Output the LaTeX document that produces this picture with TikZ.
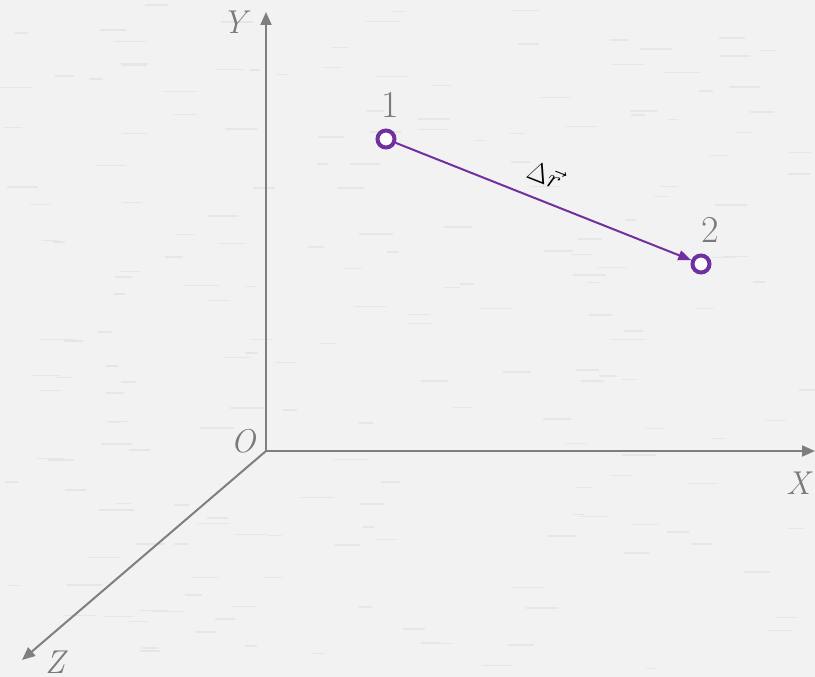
\documentclass[tikz,border=0pt]{standalone}
\usetikzlibrary{arrows.meta}
\usepackage{graphicx}
\definecolor{bgc}{HTML}{F2F2F2}
\definecolor{texc}{HTML}{E6E6E6}
\definecolor{axisc}{HTML}{7F7F7F}
\definecolor{labc}{HTML}{7A7A7A}
\definecolor{purp}{HTML}{7030A0}
\tikzset{
  axis/.style={draw=axisc, line width=2pt, -{Triangle[length=13pt,width=11pt]}},
  axlab/.style={text=labc, font=\fontsize{33}{35}\selectfont\itshape, inner sep=0pt},
  ptlab/.style={text=labc, font=\fontsize{38}{40}\selectfont, inner sep=0pt},
  pt/.style={circle, draw=purp, line width=4pt, fill=white, minimum size=17pt, inner sep=0pt},
  vec/.style={draw=purp, line width=2pt, -{Triangle[length=13pt,width=10pt]}},
}
\begin{document}
\begin{tikzpicture}[x=1pt,y=-1pt]
\fill[bgc] (0,0) rectangle (815,677);
\useasboundingbox (0,0) rectangle (815,677);
\pgfmathsetseed{7}
\foreach \i in {1,...,200}{
  \pgfmathsetmacro{\px}{rnd*800}
  \pgfmathsetmacro{\py}{rnd*670}
  \pgfmathsetmacro{\pl}{10+rnd*25}
  \draw[texc, line width=1.5pt] (\px,\py) -- ++(\pl,0);
}
\coordinate (O) at (266,451);
\coordinate (Yend) at (266,12);
\coordinate (Xend) at (815,451);
\coordinate (Zend) at (22,660);
\draw[axis] (O) -- (Yend);
\draw[axis] (O) -- (Xend);
\draw[axis] (O) -- (Zend);
\node[axlab] (ylab) at (234,22) {Y};
\node[axlab] (olab) at (243,441) {O};
\node[axlab] (xlab) at (798,483) {X};
\node[axlab] (zlab) at (55,662) {Z};
\node[pt] (p1) at (386,139) {};
\node[pt] (p2) at (701,264) {};
\draw[vec] (p1) -- (p2);
\node[ptlab] (l1) at (390,105) {1};
\node[ptlab] (l2) at (710,230) {2};
\node[rotate=-21.6, inner sep=0pt] (dr) at (545,175) {\scalebox{1.6}{\fontsize{17}{17}\selectfont$\Delta\vec{r}$}};
\end{tikzpicture}
\end{document}
